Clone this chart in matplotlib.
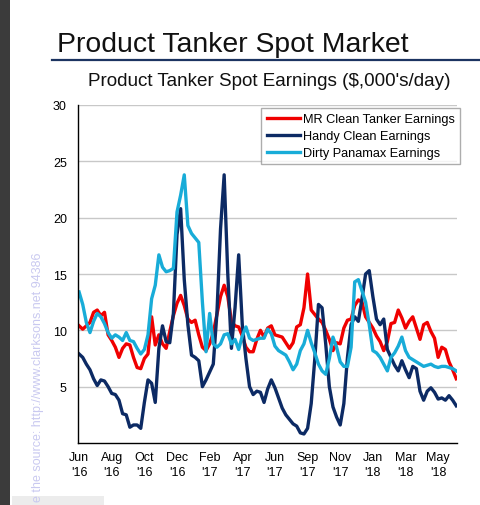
import numpy as np
import matplotlib
matplotlib.use("Agg")
import matplotlib.pyplot as plt
from matplotlib.lines import Line2D
from matplotlib.patches import Rectangle

plt.rcParams['font.family'] = ['Liberation Sans', 'DejaVu Sans']

# weekly spot earnings, $,000/day, Jun 2016 - May 2018
mr_clean = [10.4, 10.1, 10.4, 10.7, 11.6, 11.8, 11.3, 11.6, 9.6, 9.1,
            8.5, 7.6, 8.4, 8.8, 8.7, 7.6, 6.7, 6.6, 7.5, 7.9,
            11.2, 8.7, 9.6, 8.8, 8.4, 9.9, 11.3, 12.4, 13.1, 12.2,
            11.0, 10.7, 10.9, 9.6, 8.5, 8.2, 8.8, 9.8, 11.4, 13.0,
            14.0, 13.0, 10.8, 10.4, 10.3, 9.5, 8.5, 8.1, 8.1, 9.2,
            10.0, 9.4, 10.2, 10.4, 9.6, 9.5, 9.4, 8.9, 8.4, 8.9,
            10.3, 10.5, 12.0, 15.0, 11.8, 11.4, 11.0, 10.7, 10.0, 9.2,
            8.2, 8.9, 8.8, 10.2, 10.9, 11.0, 12.2, 12.7, 12.5, 11.2,
            10.7, 10.2, 9.5, 9.0, 8.2, 9.0, 10.6, 10.7, 11.8, 11.1,
            10.2, 10.8, 11.2, 10.2, 9.2, 10.5, 10.7, 9.9, 9.3, 7.6,
            8.5, 8.3, 7.2, 6.5, 5.7]

handy_clean = [7.9, 7.6, 7.0, 6.5, 5.7, 5.1, 5.6, 5.5, 5.0, 4.4,
               4.3, 3.8, 2.6, 2.5, 1.4, 1.6, 1.6, 1.3, 3.6, 5.6,
               5.3, 3.6, 8.4, 10.4, 9.0, 8.9, 11.5, 18.5, 20.8, 14.5,
               10.5, 7.8, 7.6, 7.3, 5.0, 5.6, 6.3, 7.0, 11.5, 19.0,
               23.8, 15.0, 8.4, 12.0, 16.7, 10.5, 7.5, 5.0, 4.3, 4.6,
               4.5, 3.6, 4.8, 5.6, 4.9, 4.0, 3.1, 2.5, 2.1, 1.7,
               1.5, 0.9, 0.8, 1.3, 3.5, 7.5, 12.3, 12.0, 8.8, 5.0,
               3.2, 2.3, 1.6, 3.5, 7.6, 10.5, 11.2, 10.8, 12.8, 15.0,
               15.3, 13.0, 11.0, 10.5, 11.0, 8.3, 7.6, 6.9, 6.4, 7.3,
               6.5, 5.8, 6.8, 6.6, 4.6, 3.8, 4.6, 4.9, 4.5, 3.9,
               4.0, 3.8, 4.2, 3.8, 3.3]

dirty_panamax = [13.4, 12.3, 10.7, 9.8, 10.8, 11.5, 11.2, 10.6, 9.8, 9.3,
                 9.6, 9.4, 9.1, 9.8, 9.1, 9.0, 8.4, 7.9, 8.3, 9.6,
                 12.8, 14.0, 16.7, 15.6, 15.2, 15.3, 15.5, 20.5, 22.0, 23.8,
                 19.3, 18.6, 18.2, 17.8, 12.5, 8.1, 11.5, 8.8, 8.5, 8.8,
                 9.6, 9.7, 8.8, 9.2, 8.3, 9.5, 10.3, 9.3, 9.1, 9.2,
                 9.3, 9.3, 10.1, 9.7, 8.6, 8.2, 8.0, 7.8, 7.2, 6.5,
                 7.0, 8.2, 8.8, 10.0, 8.9, 8.0, 7.0, 6.4, 6.1, 7.5,
                 9.4, 8.5, 7.2, 6.8, 6.8, 8.5, 14.3, 14.5, 13.5, 12.5,
                 10.5, 8.2, 8.0, 7.6, 7.0, 6.4, 7.6, 8.0, 8.6, 9.4,
                 8.2, 7.6, 7.4, 7.2, 7.0, 6.8, 6.9, 7.0, 6.8, 6.7,
                 6.8, 6.8, 6.7, 6.6, 6.4]

tick_labels = ["Jun\n'16", "Aug\n'16", "Oct\n'16", "Dec\n'16", "Feb\n'17", "Apr\n'17",
               "Jun\n'17", "Sep\n'17", "Nov\n'17", "Jan\n'18", "Mar\n'18", "May\n'18"]
tick_weeks = [0, 9, 18, 27, 36, 45, 54, 63, 72, 81, 90, 99]

W, H = 480, 506
fig = plt.figure(figsize=(4.8, 5.06), dpi=100)
ax = fig.add_axes([78 / W, 1 - 444 / H, 379 / W, 338 / H])

weeks = np.arange(len(mr_clean))
ax.plot(weeks, mr_clean, color='#f00000', lw=2.4, label='MR Clean Tanker Earnings')
ax.plot(weeks, handy_clean, color='#0c2a64', lw=2.4, label='Handy Clean Earnings')
ax.plot(weeks, dirty_panamax, color='#18acd8', lw=2.4, label='Dirty Panamax Earnings')

ax.set_xlim(-0.3, 104.2)
ax.set_ylim(0, 30)
ax.set_yticks([5, 10, 15, 20, 25, 30])
ax.set_xticks(tick_weeks)
ax.set_xticklabels(tick_labels, linespacing=1.3)
ax.tick_params(axis='both', length=0, labelsize=9)
ax.tick_params(axis='y', pad=8)
ax.tick_params(axis='x', pad=6)
ax.grid(axis='y', color='#c8c8c8', lw=1)
ax.set_axisbelow(True)
for s in ['top', 'right']:
    ax.spines[s].set_visible(False)
for s in ['left', 'bottom']:
    ax.spines[s].set_color('black')
    ax.spines[s].set_linewidth(1)

leg = fig.legend(loc='upper right', bbox_to_anchor=(460 / W, 1 - 109 / H),
                 fontsize=9.2, frameon=True, fancybox=False, handlelength=2.6,
                 handletextpad=0.25, borderpad=0.4, labelspacing=0.4,
                 borderaxespad=0)
leg.get_frame().set_edgecolor('#999999')
leg.get_frame().set_linewidth(1)

# titles and decoration
fig.text(57 / W, 1 - 52 / H, 'Product Tanker Spot Market', fontsize=20.4,
         va='baseline', ha='left', color='#111111')
fig.add_artist(Line2D([52 / W, 1.0], [1 - 61 / H, 1 - 61 / H],
                      color='#1c3461', lw=1.6))
fig.text(269 / W, 1 - 86 / H, "Product Tanker Spot Earnings ($,000's/day)",
         fontsize=13.6, va='baseline', ha='center', color='#111111')

fig.add_artist(Rectangle((0, 0), 10 / W, 1, transform=fig.transFigure,
                         color='#3b3b3b', lw=0))
fig.add_artist(Rectangle((12 / W, 0), 92 / W, 9 / H, transform=fig.transFigure,
                         color='#ececec', lw=0))
fig.text(38 / W, 1 - 253 / H, 'e the source: http://www.clarksons.net 94386',
         rotation=90, fontsize=9, color='#c9c9f0', ha='center', va='top')

fig.savefig('out.png', dpi=100)
